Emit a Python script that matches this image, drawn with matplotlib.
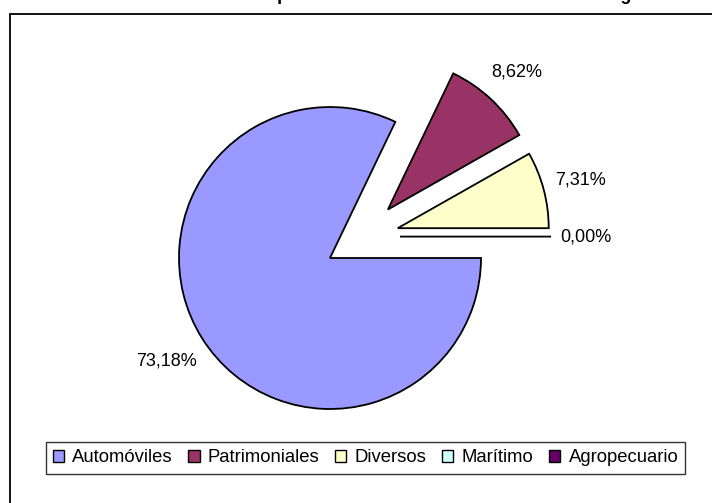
import numpy as np
import matplotlib
matplotlib.use("Agg")
from matplotlib import pyplot as plt
from matplotlib.patches import Patch, Rectangle

# Data (percent shares; Agropecuario has no value)
categories = ["Automóviles", "Patrimoniales", "Diversos", "Marítimo", "Agropecuario"]
values = [73.18, 8.62, 7.31, 0.00, None]
colors = ["#9999FF", "#993366", "#FFFFCC", "#CCFFFF", "#660066"]

title = "Participación de cada ramo en la cartera de Seguros Generales"

# explosion style: distance (in radii) and direction tweak (deg) per slice
explode_r = [0.0, 0.50, 0.49, 0.485]
explode_turn = [0.0, -7.0, 9.0, 17.0]
label_r = [1.28, 1.25, 1.25, 1.23]

W, H = 712, 503
cx, cy, R = 330, 258, 151  # pie centre and radius in pixels

plt.rcParams["font.family"] = ["Liberation Sans", "DejaVu Sans"]

fig = plt.figure(figsize=(W / 100, H / 100), dpi=100)
ax = fig.add_axes([0, 0, 1, 1])

pie_vals = [v for v in values if v is not None]
wedges, _ = ax.pie(
    pie_vals,
    colors=colors[:len(pie_vals)],
    startangle=0,
    counterclock=False,
    wedgeprops=dict(edgecolor="black", linewidth=1.3),
)

for i, (w, v) in enumerate(zip(wedges, pie_vals)):
    mid = np.deg2rad((w.theta1 + w.theta2) / 2)
    d = mid + np.deg2rad(explode_turn[i])
    ox, oy = explode_r[i] * np.cos(d), explode_r[i] * np.sin(d)
    w.set_center((ox, oy))
    ax.text(ox + label_r[i] * np.cos(mid), oy + label_r[i] * np.sin(mid),
            f"{v:.2f}%".replace(".", ","), ha="center", va="center",
            fontsize=13, color="black")

ax.set_aspect("auto")
ax.set_xlim(-cx / R, (W - cx) / R)
ax.set_ylim(-(H - cy) / R, cy / R)
ax.axis("off")

# chart area frame (runs off the right and bottom edges)
fig.add_artist(Rectangle((10 / W, -0.2), 1.5, 1.2 - 14 / H, fill=False,
                         edgecolor="black", linewidth=1.3,
                         transform=fig.transFigure))

# title, mostly above the visible area
fig.text(222 / W, 1.0, title, ha="left", va="baseline",
         fontsize=13, fontweight="bold")

handles = [Patch(facecolor=c, edgecolor="black", linewidth=1.0) for c in colors]
leg = fig.legend(handles, categories, loc="center", ncol=5,
                 bbox_to_anchor=(365.5 / W, 1 - 458 / H),
                 fontsize=13.3, frameon=True, fancybox=False, shadow=False,
                 handlelength=0.6, handleheight=0.6, handletextpad=0.45,
                 columnspacing=0.85, borderpad=0.38, borderaxespad=0)
leg.get_frame().set_edgecolor("black")
leg.get_frame().set_linewidth(1.0)

fig.savefig("out.png", dpi=100, facecolor="white")
